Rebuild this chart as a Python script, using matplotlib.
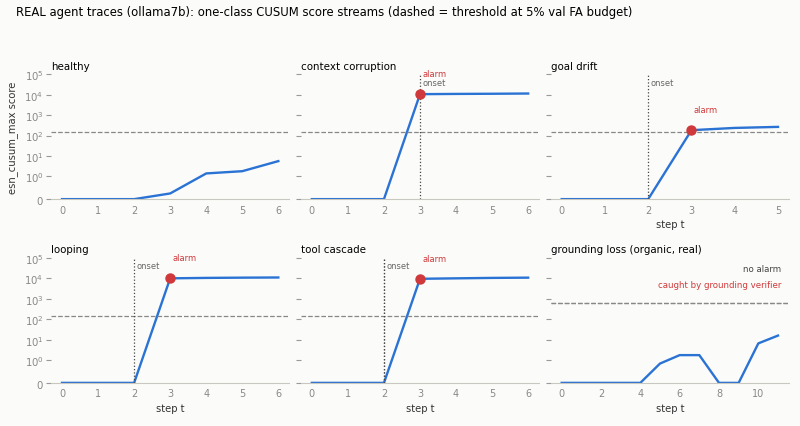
""" REAL agent traces: one-class CUSUM score streams per scenario """

import matplotlib
matplotlib.use("Agg")
import matplotlib.pyplot as plt
import numpy as np

# scenario panels (row-major, 2 x 3)
panel_titles = ["healthy", "context corruption", "goal drift",
                "looping", "tool cascade", "grounding loss (organic, real)"]

healthy = [0, 0, 0, 0.25, 1.4, 1.8, 5.6]
context_corruption = [0, 0, 0, 10500, 10800, 11000, 11300]
goal_drift = [0, 0, 0, 182, 235, 264]
looping = [0, 0, 0, 10000, 10500, 10800, 11000]
tool_cascade = [0, 0, 0, 9500, 10000, 10500, 10800]
grounding_loss = [0, 0, 0, 0, 0, 0.85, 1.76, 1.76, 0, 0, 6.6, 15.9]

series = [healthy, context_corruption, goal_drift,
          looping, tool_cascade, grounding_loss]

thresholds = [145, 145, 145, 145, 145, 610]
onsets = [None, 3, 2, 2, 2, None]
alarms = [None, 3, 3, 3, 3, None]

BLUE = "#2a72d4"
RED = "#d0393b"
BG = "#fbfbf9"


def draw():
    fig, axes = plt.subplots(2, 3, figsize=(8, 4.27), dpi=100, sharey=True)
    fig.patch.set_facecolor(BG)
    plt.subplots_adjust(left=0.064, right=0.986, top=0.824, bottom=0.101,
                        wspace=0.05, hspace=0.47)

    for i, ax in enumerate(axes.flat):
        ax.set_facecolor(BG)
        y = series[i]
        t = np.arange(len(y))
        ax.set_yscale("symlog", linthresh=1)
        ax.plot(t, y, color=BLUE, lw=1.7)
        ax.axhline(thresholds[i], color="#888888", ls="--", lw=0.9)
        if i == 5:
            # drawn twice in the source, looks heavier
            ax.axhline(thresholds[i], color="#888888", ls="--", lw=0.9)

        if onsets[i] is not None:
            ax.axvline(onsets[i], color="#444444", ls=":", lw=0.9)
            if i == 4:
                ax.axvline(onsets[i], color="#444444", ls=":", lw=0.9)
            ax.annotate("onset", xy=(onsets[i], 0.936),
                        xycoords=("data", "axes fraction"),
                        xytext=(1.5, 0), textcoords="offset points",
                        va="center", ha="left", fontsize=6, color="#666666")
        if alarms[i] is not None:
            a = alarms[i]
            ax.plot([a], [y[a]], "o", color=RED, ms=6.5, zorder=5)
            ax.annotate("alarm", xy=(a, y[a]), xytext=(1.5, 11.5),
                        textcoords="offset points", va="bottom", ha="left",
                        fontsize=6, color=RED)

        ax.set_ylim(0, 1e5)
        ax.yaxis.set_minor_locator(matplotlib.ticker.NullLocator())
        ax.set_title(panel_titles[i], loc="left", fontsize=7.4, pad=4)
        for s in ["top", "right", "left"]:
            ax.spines[s].set_visible(False)
        ax.spines["bottom"].set_color("#c8c8c0")
        ax.tick_params(axis="y", length=3.5, color="#999999",
                       labelsize=7.3, labelcolor="#888888", pad=2)
        ax.tick_params(axis="x", length=0, labelsize=7,
                       labelcolor="#888888", pad=4)
        if i == 5:
            ax.set_xticks([0, 2, 4, 6, 8, 10])
        else:
            ax.set_xticks(t)

    for i in [2, 3, 4, 5]:
        axes.flat[i].set_xlabel("step t", fontsize=7.2, color="#333333",
                                labelpad=3)
    axes[0, 0].set_ylabel("esn_cusum_max score", fontsize=7.2,
                          color="#333333")

    g = axes[1, 2]
    g.text(0.967, 0.916, "no alarm", transform=g.transAxes, ha="right",
           va="center", fontsize=6.2, color="#444444")
    g.text(0.967, 0.79, "caught by grounding verifier", transform=g.transAxes,
           ha="right", va="center", fontsize=6.2, color=RED)

    fig.text(0.02, 0.97, "REAL agent traces (ollama7b): one-class CUSUM score "
             "streams (dashed = threshold at 5% val FA budget)",
             ha="left", va="center", fontsize=8.4)
    fig.savefig("out.png", dpi=100, facecolor=BG)


if __name__ == "__main__":
    draw()
